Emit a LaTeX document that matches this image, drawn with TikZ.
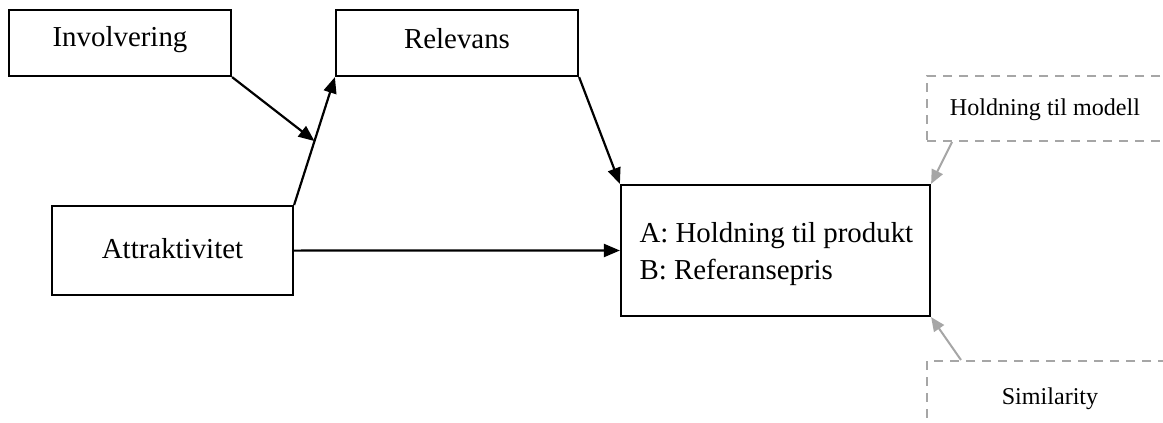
\documentclass[tikz,border=0pt]{standalone}
\usepackage{fontspec}
\setmainfont{Liberation Serif}
\usetikzlibrary{arrows.meta,calc}
\definecolor{dgrey}{HTML}{A6A6A6}
\tikzset{
  box/.style={draw=black,line width=2.2pt,inner sep=0pt,align=center,
    font=\fontsize{28.9}{35}\selectfont,text height=20pt,text depth=10pt},
  mainbox/.style={draw=black,line width=2.2pt,inner sep=0pt,
    minimum width=309pt,minimum height=131pt},
  maintext/.style={inner sep=0pt,anchor=base west,font=\fontsize{28.9}{35}\selectfont},
  dbox/.style={draw=dgrey,line width=2pt,dash pattern=on 9pt off 7pt,inner sep=0pt},
  dtext/.style={inner sep=0pt,anchor=base,font=\fontsize{24.1}{29}\selectfont},
  arr/.style={draw=black,line width=2.2pt,-{Triangle[length=16pt,width=13pt]}},
  garr/.style={draw=dgrey,line width=2pt,-{Triangle[length=14pt,width=12pt]}},
}
\begin{document}
\begin{tikzpicture}[x=1pt,y=-1pt]
\useasboundingbox (0,0) rectangle (1163,423);
\clip (0,0) rectangle (1163,423);
\fill[white] (0,0) rectangle (1163,423);
\node[box,minimum width=222pt,minimum height=66pt,text depth=12.6pt] (inv) at (120,43) {Involvering};
\node[box,minimum width=242pt,minimum height=66pt] (rel) at (457,43) {Relevans};
\node[box,minimum width=241pt,minimum height=89pt,text depth=5pt] (att) at (172.5,250.6) {Attraktivitet};
\node[mainbox] (main) at (775.5,250.5) {};
\node[maintext] (ma) at (639.3,242.7) {A: Holdning til produkt};
\node[maintext] (mb) at (639.3,279.7) {B: Referansepris};
\node[dbox,minimum width=260pt,minimum height=65pt] (hold) at (1057,108.5) {};
\node[dtext] (holdt) at (1045,115.7) {Holdning til modell};
\node[dbox,minimum width=260pt,minimum height=72pt] (sim) at (1057,397) {};
\node[dtext] (simt) at (1050,404) {Similarity};
\coordinate (j) at ($(att.north east)!0.5!(rel.south west)$);
\coordinate (hs) at ($(hold.south west)+(26,0)$);
\coordinate (ss) at ($(sim.north west)+(35,0)$);
\draw[arr] (inv.south east) -- (j);
\draw[arr] (att.north east) -- (rel.south west);
\draw[arr] (rel.south east) -- (main.north west);
\draw[arr] (att.east) -- (main.west);
\draw[garr] (hs) -- (main.north east);
\draw[garr] (ss) -- (main.south east);
\end{tikzpicture}
\end{document}
